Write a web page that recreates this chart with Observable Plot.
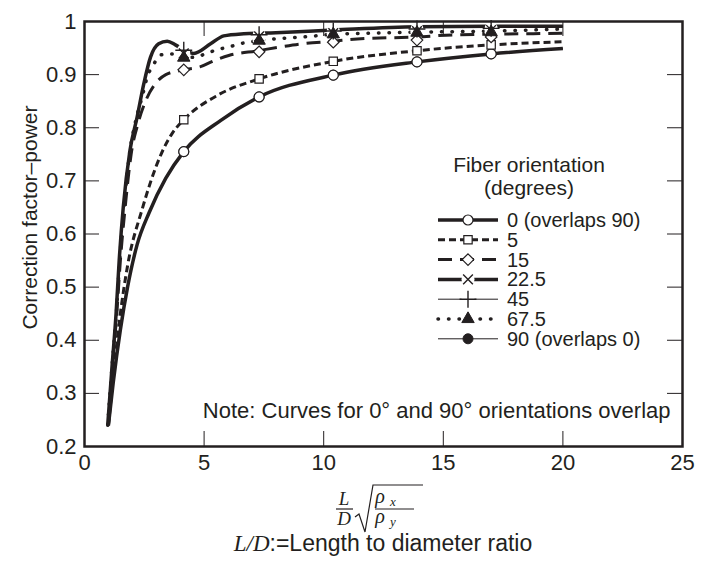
<!DOCTYPE html>
<html><head><meta charset="utf-8">
<script src="https://cdn.jsdelivr.net/npm/d3@7"></script>
<script src="https://cdn.jsdelivr.net/npm/@observablehq/plot@0.6"></script>
<style>body{margin:0;background:#fff;}</style>
</head><body><div id="chart"></div>
<script>
// ---------- data ----------
const xTicks = [0, 5, 10, 15, 20, 25];
const xTickLabels = ["0", "5", "10", "15", "20", "25"];
const yTicks = [0.2, 0.3, 0.4, 0.5, 0.6, 0.7, 0.8, 0.9, 1];
const yTickLabels = ["0.2", "0.3", "0.4", "0.5", "0.6", "0.7", "0.8", "0.9", "1"];
const seriesNames = ["0 (overlaps 90)", "5", "15", "22.5", "45", "67.5", "90 (overlaps 0)"];

const s0X = [1.0, 1.2, 1.5, 1.8, 2.2, 2.7, 3.4, 4.15, 5.7, 7.3, 10.4, 13.9, 17.0, 20.0];
const s0Y = [0.24, 0.32, 0.42, 0.50, 0.58, 0.64, 0.705, 0.755, 0.814, 0.858, 0.899, 0.924, 0.939, 0.949];
const s5X = [1.0, 1.2, 1.47, 1.8, 2.4, 3.2, 3.66, 4.15, 5.6, 7.3, 10.4, 13.9, 17.0, 20.0];
const s5Y = [0.24, 0.33, 0.44, 0.54, 0.645, 0.75, 0.789, 0.815, 0.862, 0.892, 0.925, 0.945, 0.956, 0.962];
const s15X = [1.0, 1.17, 1.35, 1.5, 1.7, 1.95, 2.25, 2.6, 3.0, 3.4, 4.15, 4.85, 5.4, 6.03, 7.25, 8.19, 9.1, 10.4, 11.4, 13.9, 15.5, 17.0, 20.0];
const s15Y = [0.24, 0.35, 0.45, 0.55, 0.65, 0.75, 0.81, 0.855, 0.885, 0.90, 0.909, 0.915, 0.926, 0.936, 0.945, 0.952, 0.958, 0.963, 0.967, 0.971, 0.975, 0.976, 0.978];
const s22X = [0.97, 1.15, 1.32, 1.45, 1.62, 1.9, 2.2, 2.48, 2.76, 3.1, 3.46, 3.8, 4.2, 4.57, 5.27, 5.82, 6.66, 8.0, 10.4, 13.9, 17.0, 20.0];
const s22Y = [0.24, 0.35, 0.45, 0.55, 0.65, 0.757, 0.82, 0.883, 0.933, 0.958, 0.963, 0.956, 0.945, 0.94, 0.958, 0.973, 0.977, 0.979, 0.984, 0.99, 0.991, 0.991];
const s45X = [0.97, 1.15, 1.32, 1.45, 1.62, 1.9, 2.2, 2.48, 2.76, 3.1, 3.46, 3.8, 4.2, 4.57, 5.27, 5.82, 6.66, 8.0, 10.4, 13.9, 17.0, 20.0];
const s45Y = [0.24, 0.35, 0.45, 0.55, 0.65, 0.757, 0.82, 0.883, 0.933, 0.958, 0.963, 0.956, 0.945, 0.94, 0.958, 0.973, 0.977, 0.979, 0.984, 0.99, 0.991, 0.991];
const s67X = [0.97, 1.15, 1.33, 1.47, 1.65, 1.88, 2.15, 2.41, 2.62, 2.9, 3.18, 3.67, 4.15, 4.64, 5.1, 5.55, 6.03, 6.5, 7.25, 8.5, 9.45, 10.35, 12.0, 13.9, 17.0, 20.0];
const s67Y = [0.24, 0.35, 0.45, 0.55, 0.65, 0.75, 0.815, 0.858, 0.895, 0.92, 0.937, 0.939, 0.932, 0.933, 0.94, 0.947, 0.952, 0.958, 0.964, 0.969, 0.972, 0.976, 0.978, 0.98, 0.982, 0.986];
const s90X = [1.0, 1.2, 1.5, 1.8, 2.2, 2.7, 3.4, 4.15, 5.7, 7.3, 10.4, 13.9, 17.0, 20.0];
const s90Y = [0.24, 0.32, 0.42, 0.50, 0.58, 0.64, 0.705, 0.755, 0.814, 0.858, 0.899, 0.924, 0.939, 0.949];

const markX = [4.15, 7.3, 10.4, 13.9, 17.0];
const m0Y = [0.755, 0.858, 0.899, 0.924, 0.939];
const m5Y = [0.815, 0.892, 0.925, 0.945, 0.956];
const m15Y = [0.909, 0.943, 0.961, 0.965, 0.971];
const m22Y = [0.94, 0.972, 0.978, 0.982, 0.984];
const m45Y = [0.946, 0.975, 0.982, 0.986, 0.987];
const m67Y = [0.932, 0.964, 0.976, 0.979, 0.980];
const m90Y = [0.755, 0.858, 0.899, 0.924, 0.939];

const yTitle = "Correction factor\u2013power";
const legendTitle = ["Fiber orientation", "(degrees)"];
const noteText = "Note: Curves for 0\u00b0 and 90\u00b0 orientations overlap";
const captionRest = ":=Length to diameter ratio";

// ---------- build tables ----------
const lineData = {
  "0 (overlaps 90)": [s0X, s0Y], "5": [s5X, s5Y], "15": [s15X, s15Y], "22.5": [s22X, s22Y],
  "45": [s45X, s45Y], "67.5": [s67X, s67Y], "90 (overlaps 0)": [s90X, s90Y]
};
const markData = {
  "0 (overlaps 90)": m0Y, "5": m5Y, "15": m15Y, "22.5": m22Y, "45": m45Y, "67.5": m67Y, "90 (overlaps 0)": m90Y
};
const rows = name => lineData[name][0].map((x, i) => ({x, y: lineData[name][1][i]}));
const marks = name => markX.map((x, i) => ({x, y: markData[name][i]}));

// ---------- styles ----------
const ink = "#231f20";
const sty = {
  "0 (overlaps 90)": {w: 3.5, dash: null, cap: "butt", sym: "circle", fill: "white", r: 5, sw: 1.2},
  "5": {w: 3, dash: "7,4", cap: "butt", sym: "square", fill: "white", r: 4.7, sw: 1.2},
  "15": {w: 3, dash: "14,8", cap: "butt", sym: "diamond2", fill: "white", r: 5.2, sw: 1.2},
  "22.5": {w: 3.5, dash: null, cap: "butt", sym: "times", fill: "none", r: 4.5, sw: 1.4},
  "45": {w: 1, dash: null, cap: "butt", sym: "plus", fill: "none", r: 5.5, sw: 1.4},
  "67.5": {w: 3.5, dash: "0.5,10", cap: "round", sym: "triangle", fill: ink, r: 4.6, sw: 1},
  "90 (overlaps 0)": {w: 1, dash: null, cap: "butt", sym: "circle", fill: ink, r: 5, sw: 1}
};
const lineOrder = ["90 (overlaps 0)", "45", "22.5", "67.5", "15", "5", "0 (overlaps 90)"];
const haloSeries = ["22.5", "45", "67.5"];
const markOrder = ["90 (overlaps 0)", "0 (overlaps 90)", "5", "15", "67.5", "22.5", "45"];

const W = 704, H = 561, mL = 84, mR = 22, mT = 21, mB = 115;
const plotW = W - mL - mR, plotH = H - mT - mB;
const tickLen = 15;
const sans = "'Liberation Sans', Arial, Helvetica, sans-serif";
const serif = "'Liberation Serif', 'Times New Roman', serif";

const chart = Plot.plot({
  width: W, height: H,
  marginLeft: mL, marginRight: mR, marginTop: mT, marginBottom: mB,
  style: {fontFamily: sans, fontSize: "22px", color: ink, background: "#fff"},
  x: {domain: [0, 25]},
  y: {domain: [0.2, 1]},
  marks: [
    // inward ticks on all four sides
    Plot.tickX(xTicks.slice(1, -1), {x: d => d, insetTop: plotH - tickLen, stroke: ink, strokeWidth: 1}),
    Plot.tickX(xTicks.slice(1, -1), {x: d => d, insetBottom: plotH - tickLen, stroke: ink, strokeWidth: 1}),
    Plot.tickY(yTicks.slice(1, -1), {y: d => d, insetRight: plotW - tickLen, stroke: ink, strokeWidth: 1}),
    Plot.tickY(yTicks.slice(1, -1), {y: d => d, insetLeft: plotW - tickLen, stroke: ink, strokeWidth: 1}),
    Plot.axisX(xTicks, {tickSize: 0, tickPadding: 8, label: null, fontSize: 22, tickFormat: d => xTickLabels[xTicks.indexOf(d)]}),
    Plot.axisY(yTicks, {tickSize: 0, tickPadding: 8, label: null, fontSize: 22, tickFormat: d => yTickLabels[yTicks.indexOf(d)]}),
    ...lineOrder.map(n => Plot.line(rows(n), {
      x: "x", y: "y", curve: "monotone-x", stroke: ink, strokeWidth: sty[n].w,
      strokeDasharray: sty[n].dash, strokeLinecap: sty[n].cap
    })),
    ...haloSeries.map(n => Plot.dot(marks(n), {x: "x", y: "y", r: 6.5, fill: "white", stroke: null})),
    ...markOrder.map(n => Plot.dot(marks(n), {
      x: "x", y: "y", symbol: sty[n].sym, r: sty[n].r,
      fill: sty[n].fill, stroke: ink, strokeWidth: sty[n].sw
    })),
    Plot.text([noteText], {frameAnchor: "bottom-right", textAnchor: "end", lineAnchor: "middle", dx: -12, dy: -36, text: d => d, fontSize: 22, fill: ink}),
    Plot.frame({stroke: ink, strokeWidth: 2.5})
  ]
});
document.getElementById("chart").appendChild(chart);

const svg = d3.select(chart);
const ys = chart.scale("y");

// ---------- y-axis title ----------
svg.append("text").attr("transform", `translate(30,${ys.apply(0.63)}) rotate(-90)`)
  .attr("text-anchor", "middle").attr("dy", "0.35em").attr("font-family", sans)
  .attr("font-size", 21).attr("fill", ink).text(yTitle);

// ---------- legend (inside the frame) ----------
const symMap = {circle: d3.symbolCircle, square: d3.symbolSquare, diamond2: d3.symbolDiamond2,
  times: d3.symbolTimes, plus: d3.symbolPlus, triangle: d3.symbolTriangle};
const lg = svg.append("g").attr("font-family", sans).attr("fill", ink);
const lgTitleX = 529;
legendTitle.forEach((t, i) => lg.append("text").attr("x", lgTitleX).attr("y", 165 + i * 23)
  .attr("dy", "0.35em").attr("text-anchor", "middle").attr("font-size", 21).text(t));
const lx0 = 438, lx1 = 498, lmx = 468, ltx = 507, ly0 = 220, lstep = 19.8;
seriesNames.forEach((n, i) => {
  const y = ly0 + i * lstep, s = sty[n];
  lg.append("line").attr("x1", lx0).attr("x2", lx1).attr("y1", y).attr("y2", y)
    .attr("stroke", ink).attr("stroke-width", s.w).attr("stroke-dasharray", s.dash)
    .attr("stroke-linecap", s.cap);
  if (haloSeries.includes(n)) lg.append("circle").attr("cx", lmx).attr("cy", y).attr("r", 6.5).attr("fill", "white");
  lg.append("path").attr("transform", `translate(${lmx},${y})`)
    .attr("d", d3.symbol(symMap[s.sym], Math.PI * s.r * s.r)())
    .attr("fill", s.fill).attr("stroke", ink).attr("stroke-width", s.sw);
  lg.append("text").attr("x", ltx).attr("y", y).attr("dy", "0.35em").attr("text-anchor", "start")
    .attr("font-size", 20).text(n);
});

// ---------- x-axis label (formula) and caption ----------
const cx = (mL + W - mR) / 2;
const fx = svg.append("g").attr("fill", ink);
const it = (x, y, t, size, anchor = "middle") => fx.append("text").attr("x", x).attr("y", y).attr("text-anchor", anchor)
  .attr("font-family", serif).attr("font-style", "italic").attr("font-size", size).text(t);
it(cx - 39, 505, "L", 19);
it(cx - 39, 525, "D", 19);
fx.append("line").attr("x1", cx - 47).attr("x2", cx - 30).attr("y1", 509).attr("y2", 509).attr("stroke", ink).attr("stroke-width", 1.2);
fx.append("path").attr("d", `M${cx - 28},517 L${cx - 24},514 L${cx - 18},532 L${cx - 10},485 L${cx + 40},485`)
  .attr("fill", "none").attr("stroke", ink).attr("stroke-width", 1.2);
it(cx - 3, 503, "\u03c1", 20);
it(cx + 7, 506, "x", 13, "start");
it(cx - 3, 523, "\u03c1", 20);
it(cx + 7, 526, "y", 13, "start");
fx.append("line").attr("x1", cx - 8).attr("x2", cx + 31).attr("y1", 509).attr("y2", 509).attr("stroke", ink).attr("stroke-width", 1.2);

const cap = svg.append("text").attr("x", cx).attr("y", 551).attr("text-anchor", "middle")
  .attr("font-family", sans).attr("font-size", 23).attr("fill", ink);
cap.append("tspan").attr("font-family", serif).attr("font-style", "italic").text("L/D");
cap.append("tspan").text(captionRest);
</script>
</body></html>
